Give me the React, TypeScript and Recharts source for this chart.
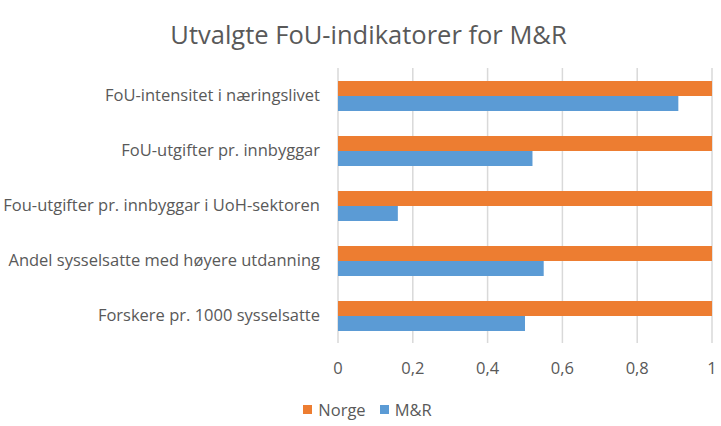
import React from 'react';
import { BarChart, Bar, XAxis, YAxis, CartesianGrid, Legend } from 'recharts';

// Category labels, top to bottom
const indicators = [
  'FoU-intensitet i næringslivet',
  'FoU-utgifter pr. innbyggar',
  'Fou-utgifter pr. innbyggar i UoH-sektoren',
  'Andel sysselsatte med høyere utdanning',
  'Forskere pr. 1000 sysselsatte',
];
const norge = [1, 1, 1, 1, 1];
const mr = [0.91, 0.52, 0.16, 0.55, 0.5];
const xTicks = [0, 0.2, 0.4, 0.6, 0.8, 1];
const seriesNames = ['Norge', 'M&R'];
const seriesColors = ['#ED7D31', '#5B9BD5'];

const data = indicators.map((name, i) => ({ name, norge: norge[i], mr: mr[i] }));

const FONT = '"Open Sans", Lato, sans-serif';
const TEXT = '#595959';

function LegendContent() {
  return (
    <div style={{ display: 'flex', justifyContent: 'center', alignItems: 'center', fontSize: 16.5, fontFamily: FONT, color: TEXT, height: 24, paddingLeft: 14 }}>
      {seriesNames.map((s, i) => (
        <span key={s} style={{ display: 'inline-flex', alignItems: 'center', marginRight: i === 0 ? 14 : 0 }}>
          <span style={{ display: 'inline-block', width: 9, height: 9, background: seriesColors[i], marginRight: 6 }} />
          {s}
        </span>
      ))}
    </div>
  );
}

export default function App() {
  return (
    <div style={{ position: 'absolute', left: 0, top: 0, width: 721, height: 426, background: '#fff', fontFamily: FONT }}>
      <div
        style={{
          position: 'absolute',
          top: 16,
          left: 8,
          width: 721,
          textAlign: 'center',
          fontSize: 25.5,
          color: TEXT,
          lineHeight: '36px',
        }}
      >
        Utvalgte FoU-indikatorer for M&amp;R
      </div>
      <BarChart
        width={721}
        height={426}
        data={data}
        layout="vertical"
        margin={{ top: 68, right: 9, left: 0, bottom: 29 }}
        barCategoryGap={13}
        barGap={0}
      >
        <CartesianGrid horizontal={false} stroke="#d9d9d9" strokeWidth={1.5} />
        <XAxis
          type="number"
          domain={[0, 1]}
          ticks={xTicks}
          axisLine={false}
          tickLine={false}
          tickMargin={13}
          height={30}
          tick={{ fill: TEXT, fontSize: 16.5, fontFamily: FONT }}
          tickFormatter={(v: number) => String(v).replace('.', ',')}
        />
        <YAxis
          type="category"
          dataKey="name"
          width={338}
          axisLine={false}
          tickLine={false}
          tickSize={0}
          tickMargin={18}
          interval={0}
          tick={{ fill: TEXT, fontSize: 16.5, fontFamily: FONT }}
        />
        <Legend verticalAlign="bottom" height={24} wrapperStyle={{ left: 0, width: 721, bottom: 5 }} content={LegendContent} />
        <Bar dataKey="norge" name="Norge" fill="#ED7D31" isAnimationActive={false} />
        <Bar dataKey="mr" name="M&R" fill="#5B9BD5" isAnimationActive={false} />
      </BarChart>
    </div>
  );
}
